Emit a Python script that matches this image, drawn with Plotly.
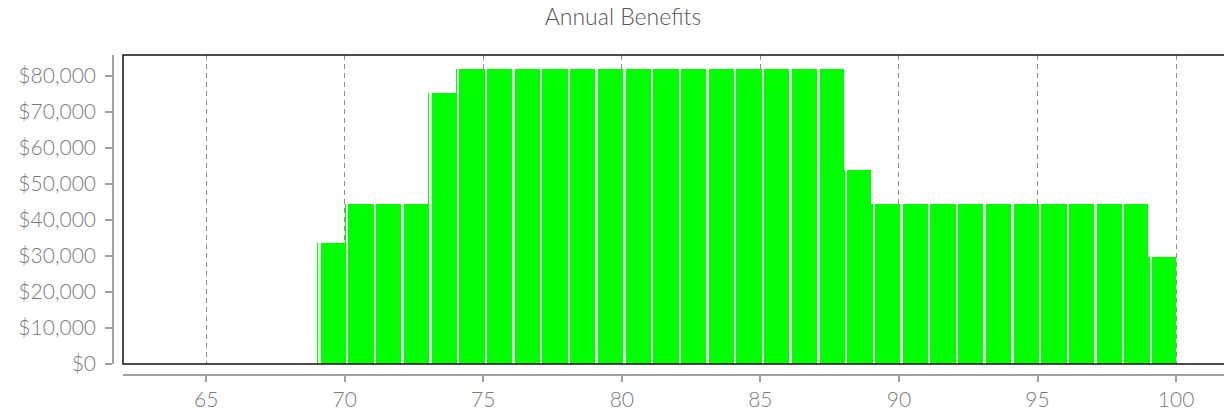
import plotly.graph_objects as go

ages = list(range(69, 100))
benefits = ([33500] + [44400] * 3 + [75300] + [81900] * 14 + [53900]
            + [44400] * 10 + [29700])
x_ticks = [65, 70, 75, 80, 85, 90, 95, 100]
y_ticks = [0, 10000, 20000, 30000, 40000, 50000, 60000, 70000, 80000]

FONT = "Lato Light, Lato"
W, H = 1224, 413
ML, MT, MB, MR = 113, 55, 38, 0
plot_w = W - ML - MR
plot_h = H - MT - MB

fig = go.Figure()
fig.add_trace(go.Bar(
    x=ages, y=benefits, width=1.0, offset=0,
    marker=dict(color="#00ff00", line=dict(width=0)),
    hoverinfo="skip", showlegend=False,
))
fig.add_trace(go.Bar(
    x=ages, y=benefits, width=0.07, offset=0.065,
    marker=dict(color="#e6f2e6", line=dict(width=0)),
    hoverinfo="skip", showlegend=False,
))

fig.update_layout(
    width=W, height=H,
    margin=dict(l=ML, r=MR, t=MT, b=MB, pad=0, autoexpand=False),
    paper_bgcolor="white", plot_bgcolor="white",
    barmode="overlay", bargap=0,
    font=dict(family=FONT, size=21, color="#7a7a7a", weight=300),
    title=dict(
        text="Annual Benefits",
        x=623 / W, xref="container", xanchor="center",
        y=1 - 17 / H, yref="container", yanchor="middle",
        font=dict(family=FONT, size=23, color="#555555", weight=300),
        automargin=False,
    ),
    xaxis=dict(
        domain=[10 / plot_w, 1],
        range=[62, 101.73],
        anchor="free", position=0, automargin=False,
        tickvals=x_ticks, ticktext=[str(v) for v in x_ticks],
        showline=True, linecolor="#a0a0a0", linewidth=1.5,
        ticks="outside", ticklen=6, tickcolor="#a0a0a0", tickwidth=1.5,
        ticklabelstandoff=0,
        showgrid=True, gridcolor="#8c8c8c", gridwidth=1, griddash="5px,4px",
        zeroline=False,
        tickfont=dict(family=FONT, size=21, color="#7a7a7a", weight=300),
    ),
    yaxis=dict(
        domain=[11 / plot_h, 1],
        range=[0, 85750],
        anchor="free", position=0, automargin=False,
        tickvals=y_ticks, tickformat="$,.0f",
        showline=True, linecolor="#a0a0a0", linewidth=1.5,
        ticks="outside", ticklen=7, tickcolor="#a0a0a0", tickwidth=1.5,
        ticklabelstandoff=5,
        showgrid=False, zeroline=False,
        tickfont=dict(family=FONT, size=21, color="#7a7a7a", weight=300),
    ),
    shapes=[dict(
        type="rect", xref="x domain", yref="y domain",
        x0=0, x1=1.02, y0=0, y1=1,
        line=dict(color="#111111", width=1.5),
        fillcolor="rgba(0,0,0,0)", layer="above",
    )],
)

fig.write_html(
    "out.html",
    config={"displayModeBar": False},
    post_script="document.body.style.margin='0';"
                "document.body.style.overflow='hidden';",
)
